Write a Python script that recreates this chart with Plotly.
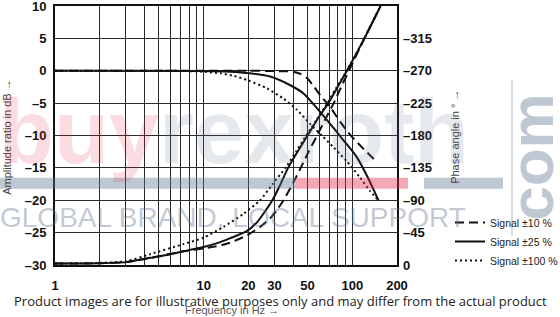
import math
import plotly.graph_objects as go

# ---------------- data ----------------
series_names = ["Signal ±10 %", "Signal ±25 %", "Signal ±100 %"]

freq_amp_10 = [1, 10, 20, 30, 40, 45, 50, 55, 62, 71, 83, 97, 116, 142]
amp_10 = [0, 0, 0, -0.05, -0.15, -0.5, -1.2, -2.4, -4.0, -5.6, -7.9, -9.9, -11.8, -13.8]

freq_amp_25 = [1, 10, 15, 20.5, 28, 38, 47, 58, 71, 87, 107, 128, 150]
amp_25 = [0, -0.05, -0.15, -0.4, -0.9, -2.2, -3.5, -5.8, -8.2, -10.7, -13.3, -16.6, -20.0]

freq_amp_100 = [1, 6, 10, 13, 16, 20, 26.6, 34.4, 42.3, 52, 62.3, 74.6, 92, 112, 132, 150]
amp_100 = [0, 0, -0.15, -0.4, -0.8, -1.5, -2.7, -4.3, -6.0, -8.2, -10.0, -11.8, -14.0, -16.4, -18.6, -20.0]

freq_ph_10 = [1, 2, 3, 4.4, 7.3, 10, 12.2, 15, 19.5, 24, 28, 31, 34.5, 40, 45, 51, 58, 66, 75, 84, 95, 120, 155]
ph_10 = [-2, -2.5, -4, -10, -19, -23, -26, -31, -41, -53, -65, -76, -90, -114, -135, -158, -180, -203, -225, -247, -270, -314, -360]

freq_ph_25 = [1, 2, 3, 4.4, 6, 8.1, 10, 12.2, 15, 19.5, 23, 26, 29, 33, 37, 43, 50, 58, 69, 80, 92, 120, 155]
ph_25 = [-2, -2.5, -4, -10, -15, -21, -25, -30, -37, -47, -60, -75, -90, -113, -135, -158, -180, -202, -225, -248, -270, -314, -360]

freq_ph_100 = [1, 2, 3, 4.36, 7.3, 10, 13.6, 18.5, 24, 29, 35.5, 42, 49, 58, 68, 79, 92, 120, 155]
ph_100 = [-2, -3, -5, -15, -29, -38, -53, -71, -90, -112, -135, -158, -180, -203, -225, -248, -270, -314, -360]

x_tickvals = [1, 2, 3, 4, 5, 6, 7, 8, 9, 10, 20, 30, 40, 50, 60, 70, 80, 90, 100, 200]
x_ticktext = ["1", "", "", "", "", "", "", "", "", "10", "20", "30", "", "50", "", "", "", "", "100", "200"]
y_tickvals = [-30, -25, -20, -15, -10, -5, 0, 5, 10]
y_ticktext = ["–30", "–25", "–20", "–15", "–10", "–5", "0", "5", "10"]
y2_tickvals = [0, -45, -90, -135, -180, -225, -270, -315]
y2_ticktext = ["0", "–45", "–90", "–135", "–180", "–225", "–270", "–315"]

dashes = ["9px,5px", "solid", "2px,3px"]

fig = go.Figure()
amp_sets = [(freq_amp_10, amp_10), (freq_amp_25, amp_25), (freq_amp_100, amp_100)]
ph_sets = [(freq_ph_10, ph_10), (freq_ph_25, ph_25), (freq_ph_100, ph_100)]
for name, dash, (fx, fy) in zip(series_names, dashes, amp_sets):
    fig.add_trace(go.Scatter(x=fx, y=fy, mode="lines", name=name,
                             line=dict(color="#111", width=2, dash=dash, shape="spline", smoothing=0.6)))
for name, dash, (fx, fy) in zip(series_names, dashes, ph_sets):
    fig.add_trace(go.Scatter(x=fx, y=fy, mode="lines", name=name, yaxis="y2", showlegend=False,
                             line=dict(color="#111", width=2, dash=dash, shape="spline", smoothing=0.6)))

tickfont = dict(family="Liberation Sans", size=13, color="#111", weight="bold")
grid = "#2a2a2a"

fig.update_layout(
    width=560, height=317,
    margin=dict(l=55, r=163, t=6, b=52, autoexpand=False),
    paper_bgcolor="white", plot_bgcolor="white",
    xaxis=dict(type="log", range=[0, math.log10(200)], tickvals=x_tickvals, ticktext=x_ticktext,
               showgrid=True, gridcolor=grid, gridwidth=1, showline=True, linecolor="#111",
               linewidth=2, mirror=True, ticks="", tickfont=tickfont, ticklabelstandoff=7,
               automargin=False, ticklabeloverflow="allow"),
    yaxis=dict(range=[-30, 10], tickvals=y_tickvals, ticktext=y_ticktext, showgrid=True,
               gridcolor=grid, gridwidth=1, zeroline=False, showline=True, linecolor="#111",
               linewidth=2, mirror=True, ticks="", tickfont=tickfont, ticklabelstandoff=4,
               automargin=False, ticklabeloverflow="allow"),
    yaxis2=dict(overlaying="y", side="right", range=[0, -360], tickvals=y2_tickvals,
                ticktext=y2_ticktext, showgrid=False, zeroline=False, showline=False, ticks="",
                tickfont=tickfont, ticklabelstandoff=5, automargin=False,
                ticklabeloverflow="allow"),
    legend=dict(xref="container", yref="container", x=450 / 560, y=1 - 208 / 317,
                xanchor="left", yanchor="top", bgcolor="rgba(0,0,0,0)",
                font=dict(family="Liberation Sans", size=10.5, color="#222"),
                itemwidth=30, tracegroupgap=0),
    showlegend=True,
)

gray_wm = "rgba(95,115,145,0.40)"
pink_wm = "rgba(225,40,70,0.40)"


def px(X):
    return (X - 55) / 342


def py(Y):
    return (265.3 - Y) / 259.3


annotations = [
    dict(text="Amplitude ratio in dB →", xref="paper", yref="paper", x=px(7), y=py(137),
         xanchor="center", yanchor="middle", textangle=-90, showarrow=False,
         font=dict(family="Liberation Sans", size=11, color="#444")),
    dict(text="Phase angle in ° →", xref="paper", yref="paper", x=px(455), y=py(137),
         xanchor="center", yanchor="middle", textangle=-90, showarrow=False,
         font=dict(family="Liberation Sans", size=11, color="#444")),
    dict(text="Frequency in Hz →", xref="paper", yref="paper", x=px(232), y=py(310),
         xanchor="center", yanchor="middle", showarrow=False,
         font=dict(family="Liberation Sans", size=11, color="#555")),
    # watermark
    dict(text=f"<b><span style='color:{pink_wm}'>buy</span><span style='color:{gray_wm}'>rexroth</span></b>",
         xref="paper", yref="paper", x=px(-3), y=py(132),
         xanchor="left", yanchor="middle", showarrow=False,
         font=dict(family="Liberation Sans", size=90, color=gray_wm)),
    dict(text="GLOBAL BRAND. LOCAL SUPPORT", xref="paper", yref="paper", x=px(-2), y=py(218),
         xanchor="left", yanchor="middle", showarrow=False,
         font=dict(family="Liberation Sans", size=28, color=gray_wm)),
    dict(text="<b>com</b>", xref="paper", yref="paper", x=px(532), y=py(158),
         textangle=-90, showarrow=False, xanchor="center", yanchor="middle",
         font=dict(family="Liberation Sans", size=62, color=gray_wm)),
    dict(text="Product images are for illustrative purposes only and may differ from the actual product",
         xref="paper", yref="paper", x=px(280), y=py(301), xanchor="center", yanchor="middle",
         showarrow=False, font=dict(family="Open Sans", size=13, color="#222")),
]
fig.update_layout(annotations=annotations)


def px_rect(x0, x1, y0, y1, color):
    return dict(type="rect", xref="paper", yref="paper", x0=px(x0), x1=px(x1),
                y0=py(y0), y1=py(y1), fillcolor=color, line=dict(width=0), layer="above")


shapes = [
    px_rect(0, 296, 178, 189, gray_wm),
    px_rect(296, 408, 178, 189, pink_wm),
    px_rect(424, 503, 178, 189, gray_wm),
    px_rect(511, 513, 80, 236, "rgba(95,115,145,0.25)"),
]
fig.update_layout(shapes=shapes)

fig.write_html("out.html")
